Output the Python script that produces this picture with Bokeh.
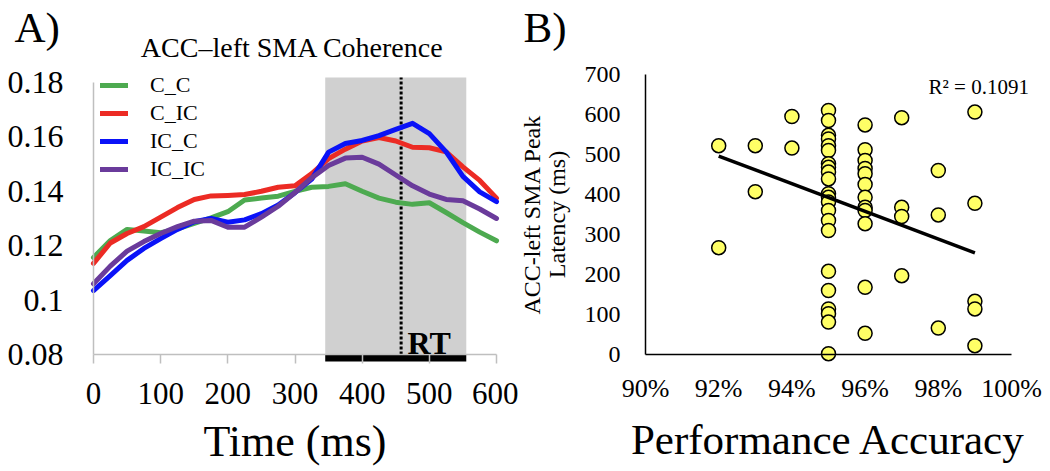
from bokeh.plotting import figure
from bokeh.layouts import row
from bokeh.models import (Range1d, FixedTicker, BoxAnnotation, Label, Legend,
                          LegendItem, CustomJSTickFormatter, PrintfTickFormatter)
from bokeh.embed import file_html
from bokeh.resources import INLINE

FONT = "Liberation Serif"

# ---------------- Panel A data ----------------
time_ms = [0, 25, 50, 75, 100, 125, 150, 175, 200, 225, 250, 275, 300,
           325, 350, 375, 400, 425, 450, 475, 500, 525, 550, 575, 600]
c_c = [0.1157, 0.1219, 0.1260, 0.1254, 0.1248, 0.1262, 0.1282, 0.1302, 0.1325,
       0.1368, 0.1375, 0.1382, 0.1400, 0.1415, 0.1418, 0.1428, 0.1400, 0.1375,
       0.1360, 0.1352, 0.1358, 0.1322, 0.1285, 0.1250, 0.1218]
c_ic = [0.1135, 0.1210, 0.1245, 0.1270, 0.1305, 0.1340, 0.1370, 0.1383, 0.1385,
        0.1388, 0.1400, 0.1415, 0.1420, 0.1465, 0.1520, 0.1555, 0.1585, 0.1598,
        0.1585, 0.1562, 0.1560, 0.1545, 0.1490, 0.1440, 0.1375]
ic_c = [0.1035, 0.1090, 0.1146, 0.1190, 0.1226, 0.1260, 0.1288, 0.1300, 0.1286,
        0.1295, 0.1318, 0.1350, 0.1395, 0.1445, 0.1544, 0.1576, 0.1587, 0.1605,
        0.1628, 0.1650, 0.1612, 0.1545, 0.1455, 0.1398, 0.1362]
ic_ic = [0.1060, 0.1125, 0.1180, 0.1215, 0.1245, 0.1270, 0.1290, 0.1293, 0.1268,
         0.1268, 0.1305, 0.1345, 0.1395, 0.1450, 0.1495, 0.1522, 0.1525, 0.1500,
         0.1460, 0.1420, 0.1390, 0.1370, 0.1365, 0.1335, 0.1300]
series_names = ["C_C", "C_IC", "IC_C", "IC_IC"]
series_values = [c_c, c_ic, ic_c, ic_ic]
series_colors = ["#4DAA50", "#EC2B24", "#0A12F8", "#6A3B9B"]
shade_start, shade_end, shade_top = 345, 555, 0.1818
rt_ms = 458
x_ticks_a = [0, 100, 200, 300, 400, 500, 600]
y_ticks_a = [0.08, 0.10, 0.12, 0.14, 0.16, 0.18]

# ---------------- Panel B data ----------------
accuracy_pct = [92, 92,
                93, 93,
                94, 94,
                95, 95, 95, 95, 95, 95, 95, 95, 95, 95, 95, 95, 95, 95, 95, 95,
                95, 95, 95, 95, 95, 95,
                96, 96, 96, 96, 96, 96, 96, 96, 96, 96, 96, 96,
                97, 97, 97, 97,
                98, 98, 98,
                99, 99, 99, 99, 99]
peak_latency_ms = [522, 267,
                   522, 407,
                   595, 516,
                   610, 585, 548, 539, 522, 510, 477, 468, 456, 439, 402, 393,
                   381, 360, 335, 310, 208, 160, 114, 102, 81, 2,
                   574, 512, 485, 465, 452, 425, 393, 368, 360, 327, 168, 53,
                   592, 368, 345, 197,
                   460, 349, 66,
                   606, 378, 133, 114, 22]
trend_x = [92, 99]
trend_y = [496, 254]
r_squared = 0.1091
x_ticks_b = [90, 92, 94, 96, 98, 100]
y_ticks_b = [0, 100, 200, 300, 400, 500, 600, 700]

# ---------------- layout geometry (page pixels) ----------------
H = 470
W1, W2 = 518, 531
# panel A: t=0 at x=93, t=600 at x=496 ; 0.08 at y=354, 0.18 at y=82
A_X0, A_SX = 93.0, 403.0 / 600.0
A_Y0, A_SY = 354.0, 2720.0
def ax(px):
    return (px - A_X0) / A_SX
def ay(py):
    return 0.08 + (A_Y0 - py) / A_SY
# panel B (page x offset W1): 90% at x=645, 100% at x=1011 ; 0 at y=354, 700 at y=74
B_X0, B_SX = 645.0, 36.6
B_Y0, B_SY = 354.0, 0.4
def bx(px):
    return 90 + (px - B_X0) / B_SX
def by(py):
    return (B_Y0 - py) / B_SY

# ================= Panel A =================
p1 = figure(width=W1, height=H, x_range=Range1d(ax(0), ax(W1)),
            y_range=Range1d(ay(H), ay(0)),
            output_backend="svg", toolbar_location=None,
            min_border=0, outline_line_color=None)
p1.grid.visible = False

p1.add_layout(BoxAnnotation(left=shade_start, right=shade_end, bottom=0.08,
                            top=shade_top, fill_color="#D0D0D0", fill_alpha=1.0,
                            line_color=None, level="underlay"))
p1.add_layout(BoxAnnotation(left=shade_start, right=shade_end, top=0.08,
                            bottom=ay(361), fill_color="black", fill_alpha=1.0,
                            line_color=None, level="underlay"))
p1.segment(x0=[rt_ms], y0=[0.08], x1=[rt_ms], y1=[shade_top], line_color="black",
           line_dash="3 2", line_width=3)

renderers = []
for vals, col in zip(series_values, series_colors):
    r = p1.line(time_ms, vals, line_color=col, line_width=5, line_cap="round",
                line_join="round")
    renderers.append(r)

legend = Legend(items=[LegendItem(label=n, renderers=[r])
                       for n, r in zip(series_names, renderers)],
                location=(100, H - 182), orientation="vertical",
                background_fill_alpha=0, border_line_color=None,
                padding=0, margin=0, spacing=2, glyph_width=28, glyph_height=22,
                label_height=22, label_standoff=22,
                label_text_font=FONT, label_text_font_size="22px",
                label_text_color="black")
p1.add_layout(legend)

xa = p1.xaxis[0]
xa.fixed_location = 0.08
xa.bounds = (x_ticks_a[0], x_ticks_a[-1])
xa.ticker = FixedTicker(ticks=x_ticks_a)
xa.axis_line_color = "#BFBFBF"
xa.axis_line_width = 1.5
xa.major_tick_in = 0
xa.major_tick_out = 9
xa.major_tick_line_color = "#BFBFBF"
xa.major_tick_line_width = 1.5
xa.minor_tick_line_color = None
xa.major_label_text_font = FONT
xa.major_label_text_font_size = "31px"
xa.major_label_text_color = "black"
xa.major_label_standoff = 19
xa.axis_label = "Time (ms)"
xa.axis_label_text_font = FONT
xa.axis_label_text_font_size = "44px"
xa.axis_label_text_font_style = "normal"
xa.axis_label_text_color = "black"
xa.axis_label_standoff = 10

ya = p1.yaxis[0]
ya.fixed_location = 0
ya.ticker = FixedTicker(ticks=y_ticks_a)
ya.formatter = CustomJSTickFormatter(code="return tick.toFixed(2).replace(/0$/, '')")
ya.bounds = (y_ticks_a[0], y_ticks_a[-1])
ya.axis_line_color = "#BFBFBF"
ya.axis_line_width = 1.5
ya.major_tick_in = 0
ya.major_tick_out = 0
ya.minor_tick_line_color = None
ya.major_label_text_font = FONT
ya.major_label_text_font_size = "32px"
ya.major_label_text_color = "black"
ya.major_label_standoff = 30

p1.add_layout(Label(x=ax(407), y=ay(342), text="RT", text_font=FONT,
                    text_font_style="bold", text_font_size="32px",
                    text_baseline="middle", text_color="black"))
p1.add_layout(Label(x=ax(292), y=ay(47), text="ACC\u2013left SMA Coherence",
                    text_font=FONT, text_font_size="28px", text_align="center",
                    text_baseline="middle", text_color="black"))
p1.add_layout(Label(x=ax(14), y=ay(27), text="A)", text_font=FONT,
                    text_font_size="43px", text_baseline="middle",
                    text_color="black"))

# ================= Panel B =================
p2 = figure(width=W2, height=H, x_range=Range1d(bx(W1), bx(W1 + W2)),
            y_range=Range1d(by(H), by(0)),
            output_backend="svg", toolbar_location=None,
            min_border=0, outline_line_color=None)
p2.grid.visible = False

p2.scatter(accuracy_pct, peak_latency_ms, size=14, fill_color="#FFFF66",
           line_color="black", line_width=1.5)
p2.line(trend_x, trend_y, line_color="black", line_width=3.5)

xb = p2.xaxis[0]
xb.fixed_location = 0
xb.bounds = (x_ticks_b[0], x_ticks_b[-1])
xb.ticker = FixedTicker(ticks=x_ticks_b)
xb.formatter = PrintfTickFormatter(format="%d%%")
xb.axis_line_color = "black"
xb.axis_line_width = 1.5
xb.major_tick_in = 0
xb.major_tick_out = 0
xb.minor_tick_line_color = None
xb.major_label_text_font = FONT
xb.major_label_text_font_size = "26px"
xb.major_label_text_color = "black"
xb.major_label_standoff = 19
xb.axis_label = "Performance Accuracy"
xb.axis_label_text_font = FONT
xb.axis_label_text_font_size = "43px"
xb.axis_label_text_font_style = "normal"
xb.axis_label_text_color = "black"
xb.axis_label_standoff = 10

yb = p2.yaxis[0]
yb.fixed_location = 90
yb.ticker = FixedTicker(ticks=y_ticks_b)
yb.bounds = (y_ticks_b[0], y_ticks_b[-1])
yb.axis_line_color = "black"
yb.axis_line_width = 1.5
yb.major_tick_in = 0
yb.major_tick_out = 0
yb.minor_tick_line_color = None
yb.major_label_text_font = FONT
yb.major_label_text_font_size = "24px"
yb.major_label_text_color = "black"
yb.major_label_standoff = 25
yb.axis_label = "ACC-left SMA Peak\nLatency (ms)"
yb.axis_label_text_font = FONT
yb.axis_label_text_font_size = "24px"
yb.axis_label_text_font_style = "normal"
yb.axis_label_text_color = "black"
yb.axis_label_text_line_height = 0.95
yb.axis_label_standoff = 12

p2.add_layout(Label(x=bx(928), y=by(86), text=f"R\u00b2 = {r_squared}", text_font=FONT,
                    text_font_size="21px", text_baseline="alphabetic",
                    text_color="black"))
p2.add_layout(Label(x=bx(523), y=by(27), text="B)", text_font=FONT,
                    text_font_size="43px", text_baseline="middle",
                    text_color="black"))

layout = row(p1, p2)
open("out.html", "w").write(file_html(layout, INLINE))
